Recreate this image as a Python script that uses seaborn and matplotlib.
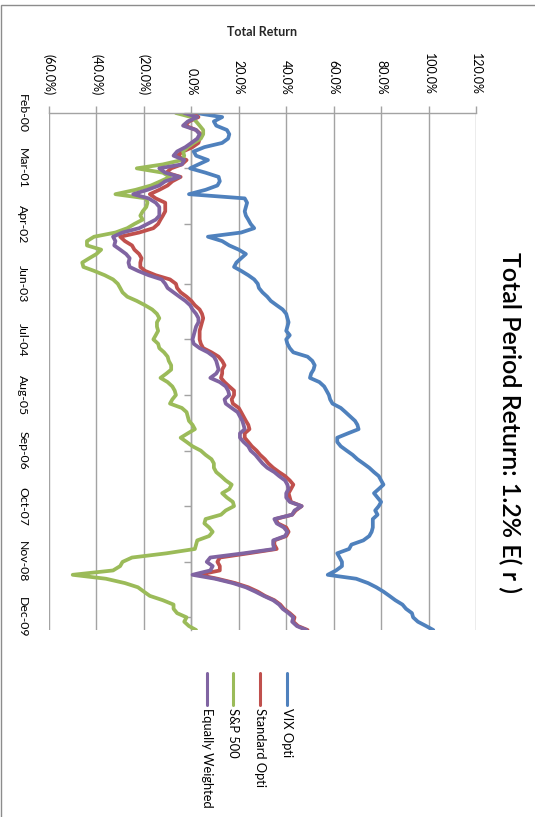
import matplotlib
matplotlib.use("Agg")
import numpy as np
import pandas as pd
import matplotlib.pyplot as plt
import matplotlib.dates as mdates
from matplotlib.lines import Line2D
from matplotlib.patches import Rectangle
from matplotlib.ticker import FuncFormatter, MultipleLocator
import seaborn as sns

# Monthly cumulative total return (%) from Feb-2000 to Mar-2010
months = pd.date_range("2000-02-01", periods=122, freq="MS")

vix_opti = [
    2, 13, 9.5, 10.5, 15, 16, 15.5, 13, 5.5, 1,
    2, 7, 3, -0.5, 6, 11.5, 12, 11, 6, -1,
    22.5, 23.5, 23, 22.5, 23, 24, 25, 26.5, 21, 7,
    13, 16, 20, 23, 21, 19, 18, 21, 24, 26.5,
    28, 28.5, 30, 32, 33.5, 36, 38.5, 40, 40.5, 41,
    40.5, 40, 41.5, 40, 40.5, 41.5, 43, 49, 51, 52,
    51.5, 50.5, 50, 54, 56, 57, 58, 58.5, 59.5, 63,
    65, 67, 69, 70, 70.5, 66, 61.5, 61.5, 63, 65.5,
    68, 70, 72.5, 75, 77, 79, 80, 81, 79, 77,
    78.5, 80, 79, 77.5, 78.5, 76.5, 76.5, 76.5, 76, 75,
    72.5, 67.5, 66.5, 61.5, 62.5, 63.5, 63.5, 61, 57.5, 69.5,
    74.5, 78, 81, 83.5, 86, 89, 90.5, 93, 93.5, 95.5,
    99, 102,
]

standard_opti = [
    0, 3, -1, -2.5, 2, 4, 3.5, 3, 0.5, -3.5,
    -6, -2, -4, -8.5, -10.5, -4.5, -8, -10, -13.5, -17.5,
    -15, -11, -11, -11, -12, -13, -14, -16, -22, -30,
    -28, -25, -24, -22, -21, -21.5, -21.5, -19.5, -15, -9,
    -6.5, -6, -4.5, -2, 0, 1.5, 3.5, 4.5, 5, 4.5,
    4, 3.5, 3.5, 3.5, 4, 5, 8.5, 11.5, 13, 14,
    13, 13, 12.5, 14, 16, 18, 18, 17, 17.5, 20,
    21, 22, 23, 24, 24.5, 22.5, 22.5, 24, 25.5, 27.5,
    29, 31, 32.5, 34.5, 37, 39.5, 41.5, 43, 42, 41,
    41.5, 42, 46.5, 44, 42.5, 35.5, 36.5, 40, 41, 40,
    35, 35, 36, 24, 12, 11, 12, 12, 3, 11,
    18.5, 24, 28, 31, 35, 37.5, 39, 41.5, 43.5, 43,
    45, 49,
]

sp500 = [
    -6.5, 0, 2, 3.5, 5, 5, 4, 1, -1.5, -3.5,
    -3, -4, -12, -23, -12, -9, -13, -17, -23.5, -32,
    -19, -18.5, -19, -20.5, -21.5, -20.5, -24, -27, -32, -41,
    -44, -44, -38, -40, -43, -46, -45.5, -41, -36.5, -33,
    -31, -30, -29, -27, -23, -19.5, -16.5, -14.5, -13.5, -14.5,
    -14.5, -14, -15, -16, -14, -13.5, -11.5, -10, -9.5, -8.5,
    -8.5, -10.5, -13, -10, -8, -7, -6.5, -8, -9, -4,
    -2, -1.5, -1, 0.5, 1.5, -1.5, -4.5, -2, 0.5, 4,
    6, 8.5, 9.5, 9.5, 10.5, 12.5, 14.5, 17, 16, 13,
    15, 17.5, 18, 14.5, 12.5, 6, 5.5, 7.5, 9, 7.5,
    2.5, 2, 1.5, -10.5, -25, -29, -30, -33, -50, -36,
    -28, -22.5, -20, -17.5, -12, -7.5, -7.5, -6, -2, -3,
    -1, 2,
]

equally_weighted = [
    -3, 2.5, -1.5, -3.5, 2, 3.5, 2.5, 0, -2.5, -6,
    -7.5, -3, -4, -13.5, -11, -5, -11, -13.5, -18.5, -24.5,
    -18, -15, -13.5, -13.5, -13.5, -15, -18.5, -22, -29, -33,
    -32, -32.5, -30, -27.5, -26, -26.5, -26, -22.5, -18, -12.5,
    -11, -10, -7.5, -5, -2.5, -0.5, 0.5, 2, 3, 3,
    2, 1.5, 1, 0.5, 1, 3.5, 7, 9.5, 10.5, 11,
    11.5, 10.5, 8, 12, 14.5, 15.5, 16, 14, 14.5, 17,
    19.5, 20.5, 21.5, 22, 22.5, 20.5, 20.5, 22, 24, 25,
    27, 28.5, 30, 32, 35, 37, 39.5, 40.5, 41, 40,
    40, 41.5, 46.5, 43.5, 42.5, 35, 36, 39, 40.5, 39.5,
    34.5, 34.5, 35, 22, 8, 6.5, 9, 8, 0.5, 10,
    17.5, 23, 27, 30.5, 34.5, 37, 38.5, 41, 43, 42.5,
    44.5, 48.5,
]

series_names = ["VIX Opti", "Standard Opti", "S&P 500", "Equally Weighted"]
series_colors = ["#4F81BD", "#C0504D", "#9BBB59", "#8064A2"]
date_tick_labels = ["Feb-00", "Mar-01", "Apr-02", "Jun-03", "Jul-04",
                    "Aug-05", "Sep-06", "Oct-07", "Nov-08", "Dec-09"]

sns.set_theme(style="white")
plt.rcParams["font.family"] = ["Lato", "DejaVu Sans"]
plt.rcParams["text.color"] = "black"
plt.rcParams["xtick.color"] = "black"
plt.rcParams["ytick.color"] = "black"

wide = pd.DataFrame({
    "Month": months,
    "VIX Opti": vix_opti,
    "Standard Opti": standard_opti,
    "S&P 500": sp500,
    "Equally Weighted": equally_weighted,
})
long = wide.melt(id_vars="Month", var_name="Series", value_name="Return")

W, H = 535, 817
fig = plt.figure(figsize=(W / 100, H / 100), dpi=100)
fig.patch.set_facecolor("white")

# chart-area frame
fig.add_artist(Rectangle((1.5 / W, -0.5), 2.0, 0.5 + 1 - 4.5 / H,
                         transform=fig.transFigure, fill=False,
                         edgecolor="#8C8C8C", linewidth=1))

# plot area: value axis runs left-to-right, time runs top-to-bottom
ax = fig.add_axes([49 / W, 1 - 630 / H, 427 / W, 517 / H])
grid_color = "#A3A3A3"

sns.lineplot(data=long, x="Return", y="Month", hue="Series",
             hue_order=series_names, palette=series_colors,
             orient="y", estimator=None, sort=False,
             linewidth=2.7, legend=False, ax=ax)

ax.set_xlim(-60, 120)
ax.set_ylim(months[-1], months[0])
ax.set_ylabel("")

# value axis on top
ax.xaxis.set_major_locator(MultipleLocator(20))
ax.xaxis.set_major_formatter(FuncFormatter(
    lambda v, p: f"({abs(v):.1f}%)" if v < -1e-9 else f"{abs(v):.1f}%"))
ax.xaxis.tick_top()
ax.xaxis.set_label_position("top")
ax.tick_params(axis="x", which="major", direction="out", length=5, width=1,
               color=grid_color, pad=8, labelsize=9, labelrotation=-90)
ax.set_xlabel("Total Return", fontsize=9, fontweight="bold", labelpad=12)

ax.grid(axis="x", color=grid_color, linewidth=1)
ax.grid(axis="y", visible=False)
for side in ["left", "right", "bottom"]:
    ax.spines[side].set_visible(False)
ax.spines["top"].set_color(grid_color)
ax.spines["top"].set_linewidth(1)

# time axis labels on the far left
tick_dates = pd.to_datetime(date_tick_labels, format="%b-%y")
tick_nums = mdates.date2num(tick_dates)
ax.set_yticks(tick_nums)
ax.set_yticklabels(date_tick_labels, rotation=-90, va="center", ha="right")
ax.tick_params(axis="y", length=0, pad=15, labelsize=8.8)

# time axis line crossing at 0%
sec = ax.secondary_yaxis(1 / 3)
sec.set_yticks(tick_nums)
sec.set_yticklabels([])
sec.tick_params(axis="y", length=5, width=1, color=grid_color, direction="out")
for s in sec.spines.values():
    s.set_color(grid_color)
    s.set_linewidth(1)

# chart title along the right edge
fig.text(510 / W, 1 - 422 / H, "Total Period Return: 1.2% E( r )",
         rotation=-90, ha="center", va="center", fontsize=18,
         fontweight="semibold")

# legend entries along the bottom
legend_x0, legend_step = 287, -26.8
for i, (name, color) in enumerate(zip(series_names, series_colors)):
    x = (legend_x0 + i * legend_step) / W
    fig.add_artist(Line2D([x, x], [1 - 673 / H, 1 - 705 / H],
                          color=color, linewidth=2.2,
                          transform=fig.transFigure))
    fig.text(x, 1 - 708 / H, name, rotation=-90, ha="center", va="top",
             fontsize=9.3)

fig.savefig("out.png", dpi=100, facecolor="white")
